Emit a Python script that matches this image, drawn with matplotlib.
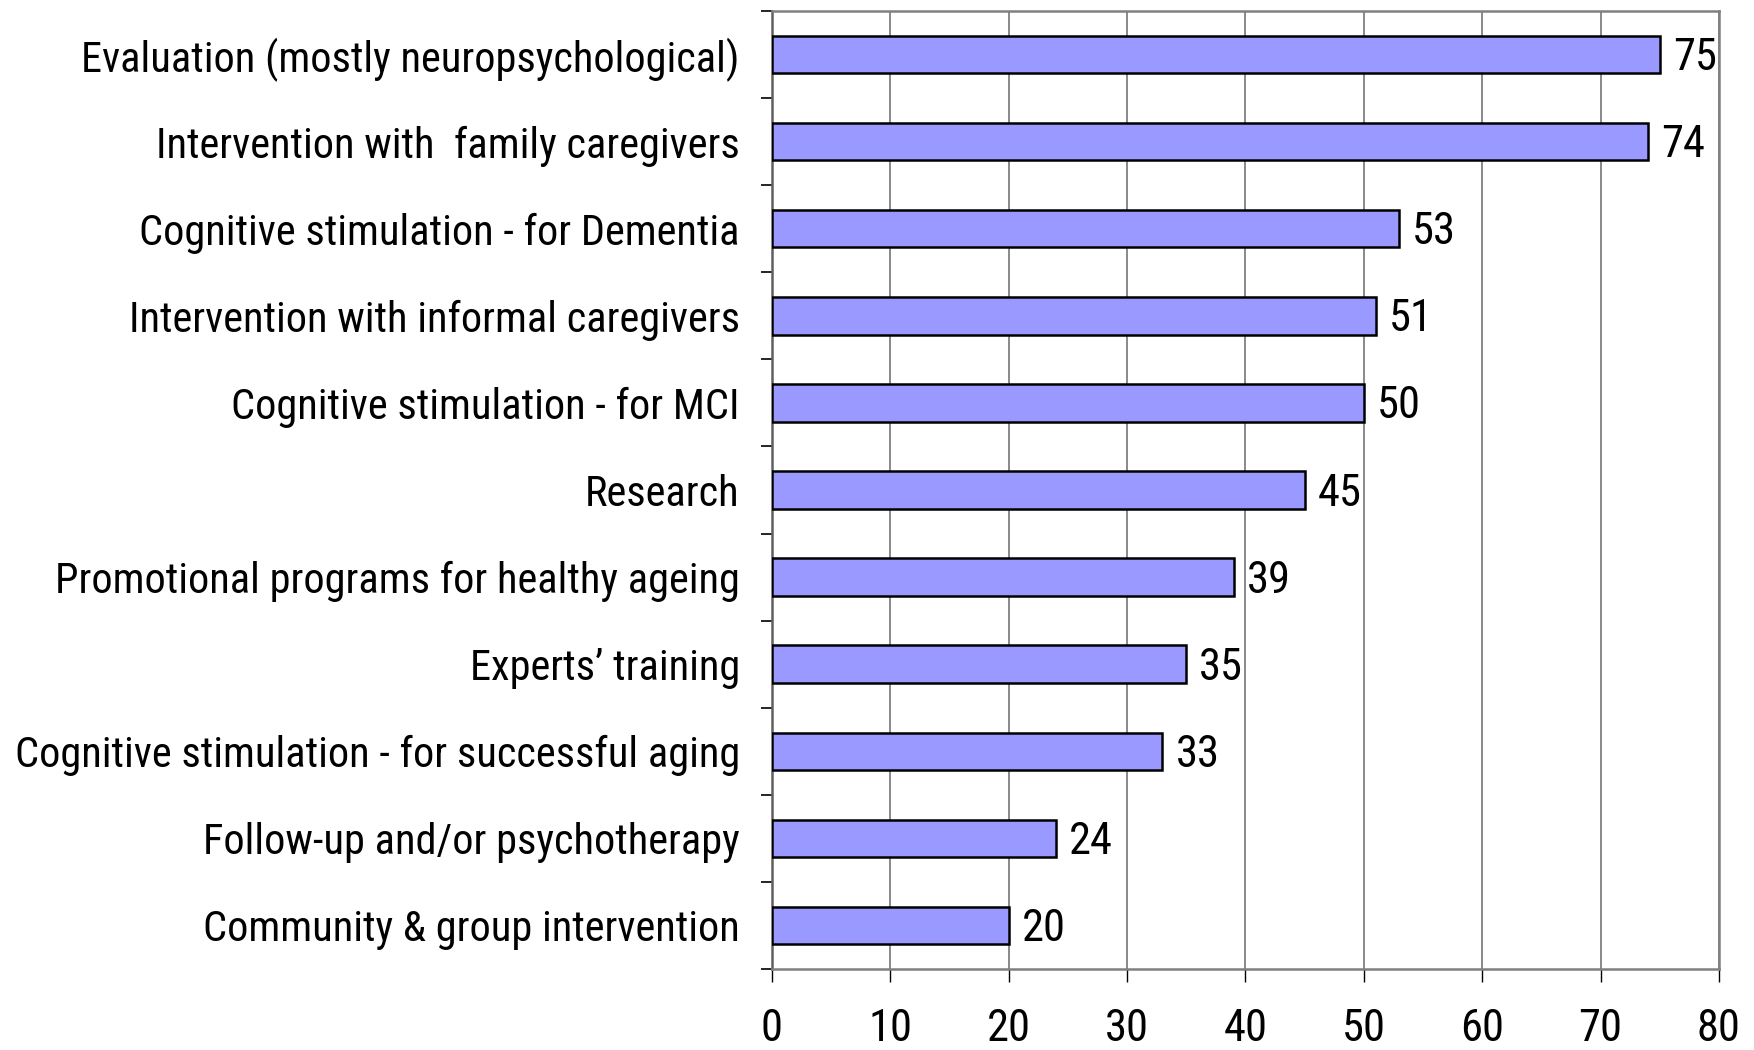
import matplotlib.pyplot as plt

categories = [
    "Evaluation (mostly neuropsychological)",
    "Intervention with  family caregivers",
    "Cognitive stimulation - for Dementia",
    "Intervention with informal caregivers",
    "Cognitive stimulation - for MCI",
    "Research",
    "Promotional programs for healthy ageing",
    "Experts\u2019 training",
    "Cognitive stimulation - for successful aging",
    "Follow-up and/or psychotherapy",
    "Community & group intervention",
]
values = [75, 74, 53, 51, 50, 45, 39, 35, 33, 24, 20]
xticks = [0, 10, 20, 30, 40, 50, 60, 70, 80]

plt.rcParams['font.family'] = ['Roboto Condensed', 'Liberation Sans', 'DejaVu Sans']

fig = plt.figure(figsize=(17.54, 10.5), dpi=100)
ax = fig.add_axes([0.440, 0.0771, 0.540, 0.9124])

n = len(categories)
ypos = list(range(n))
ax.barh(ypos, values, height=0.43, color='#9999ff', edgecolor='black', linewidth=1.8, zorder=3)

for y, v in zip(ypos, values):
    ax.text(v + 1.1, y + 0.04, str(v), va='center', ha='left', fontsize=32)

ax.set_xlim(0, 80)
ax.set_ylim(n - 0.5, -0.5)
ax.set_xticks(xticks)
ax.set_xticklabels([str(t) for t in xticks], fontsize=32)
ax.tick_params(axis='x', length=9, width=1, color='black', pad=19)

# category labels sit between boundary ticks
ax.set_yticks([i - 0.5 for i in range(n + 1)])
ax.set_yticklabels([])
ax.set_yticks(ypos, minor=True)
ax.set_yticklabels(categories, minor=True, fontsize=30.5)
ax.tick_params(axis='y', which='minor', length=0, pad=23)
ax.tick_params(axis='y', which='major', length=8, width=1.2, color='black')

ax.grid(axis='x', color='#808080', linewidth=1.3, zorder=0)
for side in ['top', 'right', 'bottom']:
    ax.spines[side].set_color('#808080')
    ax.spines[side].set_linewidth(1.8)
ax.spines['left'].set_color('#606060')
ax.spines['left'].set_linewidth(1.8)

fig.savefig('out.png', dpi=100)
